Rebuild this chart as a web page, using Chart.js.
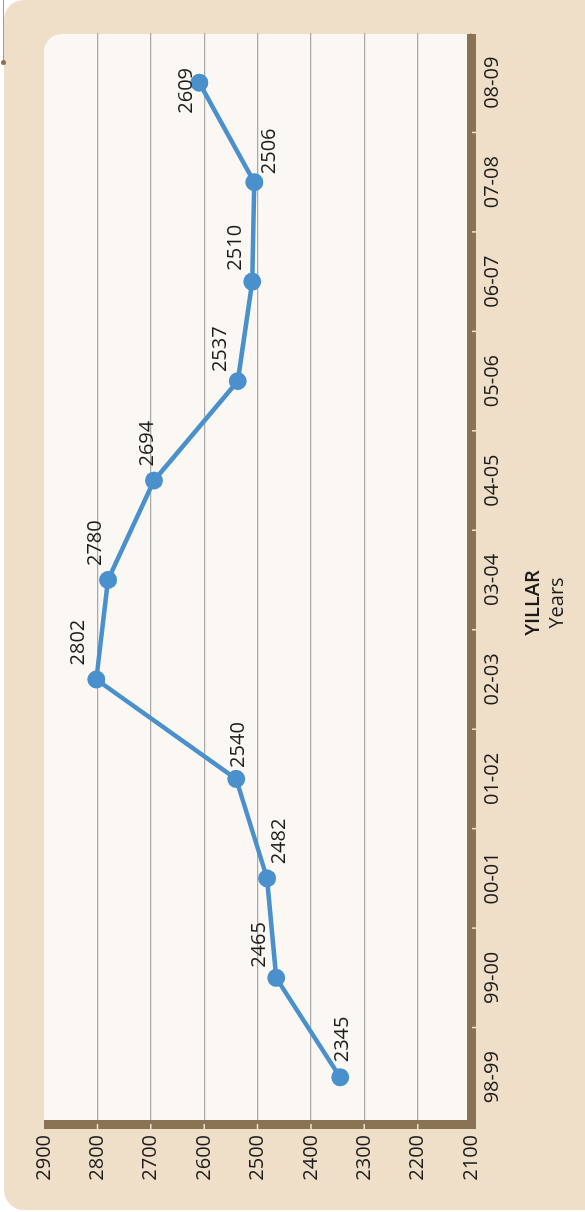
<!DOCTYPE html>
<html>
<head>
<meta charset="utf-8">
<script src="https://cdn.jsdelivr.net/npm/chart.js@4.4.1/dist/chart.umd.min.js"></script>
<style>
  html, body { margin: 0; padding: 0; width: 585px; height: 1212px; overflow: hidden; background: #ffffff; }
  #panel { position: absolute; left: 4px; top: 0; width: 640px; height: 1210px; background: #F0DFC8; border-radius: 20px; }
  #pin { position: absolute; left: 3px; top: 0; width: 1px; height: 62px; background: #9a9a9a; }
  #pinDot { position: absolute; left: 1px; top: 60px; width: 5px; height: 5px; border-radius: 50%; background: #8A7255; }
  /* chart is drawn landscape, then turned a quarter left */
  #wrap { position: absolute; left: 0; top: 0; width: 1212px; height: 585px;
          transform-origin: 0 0; transform: translateY(1212px) rotate(-90deg); }
</style>
</head>
<body>
<div id="panel"></div>
<div id="pin"></div>
<div id="pinDot"></div>
<div id="wrap"><canvas id="yearsChart" width="1212" height="585"></canvas></div>

<script>
// data
const years = ['98-99', '99-00', '00-01', '01-02', '02-03', '03-04', '04-05', '05-06', '06-07', '07-08', '08-09'];
const values = [2345, 2465, 2482, 2540, 2802, 2780, 2694, 2537, 2510, 2506, 2609];
const valueTicks = [2100, 2200, 2300, 2400, 2500, 2600, 2700, 2800, 2900];
const xTitle = ['YILLAR', 'Years'];

// label nudges (px, in the unrotated chart)
const labelDx = [15, 10, 14, 11, 14, 14, 14, 9, 11, 8, -31];
const labelDy = [2, -17, 12, 2, -18, -13, -7, -17, -17, 15, -13];

const cream = '#FBF8F3';
const brown = '#8A7255';
const blue = '#4A90CC';
const ink = '#1c1c1c';
const fontFam = "'Open Sans', 'DejaVu Sans', sans-serif";

// cream plot background with the rounded corner
const plotBg = {
    id: 'plotBg',
    beforeDraw(chart) {
        const { ctx, chartArea: a } = chart;
        ctx.save();
        ctx.fillStyle = cream;
        ctx.beginPath();
        ctx.roundRect(a.left, a.top, a.right - a.left - 1, a.bottom - a.top, [0, 18, 0, 0]);
        ctx.fill();
        ctx.restore();
    }
};

// thick brown axis bars + small light tick marks
const axisBars = {
    id: 'axisBars',
    beforeDatasetsDraw(chart) {
        const { ctx, chartArea: a, scales } = chart;
        ctx.save();
        ctx.fillStyle = brown;
        ctx.fillRect(a.left - 2, a.top, 9, a.bottom + 5 - a.top);
        ctx.fillRect(a.left - 2, a.bottom - 4, a.right - 1 - (a.left - 2), 9);

        ctx.strokeStyle = '#EDE3D5';
        ctx.lineWidth = 1.5;
        ctx.beginPath();
        valueTicks.forEach(v => {
            if (v === 2100 || v === 2900) return;
            const y = scales.y.getPixelForValue(v);
            ctx.moveTo(a.left - 2, y);
            ctx.lineTo(a.left + 3, y);
        });
        for (let i = 0; i < years.length - 1; i++) {
            const x = (scales.x.getPixelForValue(i) + scales.x.getPixelForValue(i + 1)) / 2;
            ctx.moveTo(x, a.bottom + 1);
            ctx.lineTo(x, a.bottom + 5);
        }
        ctx.stroke();
        ctx.restore();
    }
};

// value labels next to each point
const pointLabels = {
    id: 'pointLabels',
    afterDatasetsDraw(chart) {
        const { ctx } = chart;
        const meta = chart.getDatasetMeta(0);
        ctx.save();
        ctx.fillStyle = ink;
        ctx.font = '20px ' + fontFam;
        ctx.textAlign = 'left';
        ctx.textBaseline = 'middle';
        meta.data.forEach((pt, i) => {
            ctx.fillText(String(values[i]), pt.x + labelDx[i], pt.y + labelDy[i]);
        });
        ctx.restore();
    }
};

// two-line axis title, bold over regular
const axisTitle = {
    id: 'axisTitle',
    afterDraw(chart) {
        const { ctx, chartArea: a } = chart;
        const cx = chart.width / 2 + 3;
        ctx.save();
        ctx.fillStyle = ink;
        ctx.textAlign = 'center';
        ctx.textBaseline = 'middle';
        ctx.font = '600 20px ' + fontFam;
        ctx.fillText(xTitle[0], cx, a.bottom + 62);
        ctx.font = '20px ' + fontFam;
        ctx.fillText(xTitle[1], cx, a.bottom + 86);
        ctx.restore();
    }
};

new Chart(document.getElementById('yearsChart'), {
    type: 'line',
    data: {
        labels: years,
        datasets: [{
            data: values,
            borderColor: blue,
            backgroundColor: blue,
            borderWidth: 4.5,
            pointRadius: 9,
            pointBorderWidth: 0,
            pointBackgroundColor: blue,
            tension: 0,
            fill: false
        }]
    },
    options: {
        responsive: false,
        animation: false,
        layout: { padding: { top: 44, right: 33, bottom: 74, left: 0 } },
        plugins: {
            legend: { display: false },
            tooltip: { enabled: false }
        },
        events: [],
        scales: {
            x: {
                offset: true,
                grid: { display: false, drawTicks: false },
                border: { display: false },
                ticks: {
                    color: ink,
                    font: { family: fontFam, size: 20 },
                    padding: 9,
                    maxRotation: 0,
                    autoSkip: false
                },
                afterFit: s => { s.height = 40; }
            },
            y: {
                min: valueTicks[0],
                max: valueTicks[valueTicks.length - 1],
                afterBuildTicks: s => { s.ticks = valueTicks.map(v => ({ value: v })); },
                grid: {
                    color: c => (c.tick && c.tick.value === 2900) ? 'rgba(0,0,0,0)' : '#A9A9A9',
                    lineWidth: 1.2,
                    drawTicks: false
                },
                border: { display: false },
                ticks: {
                    color: ink,
                    font: { family: fontFam, size: 20 },
                    padding: 8,
                    callback: v => String(v)
                },
                afterFit: s => { s.width = 85; }
            }
        }
    },
    plugins: [plotBg, axisBars, pointLabels, axisTitle]
});
</script>
</body>
</html>
